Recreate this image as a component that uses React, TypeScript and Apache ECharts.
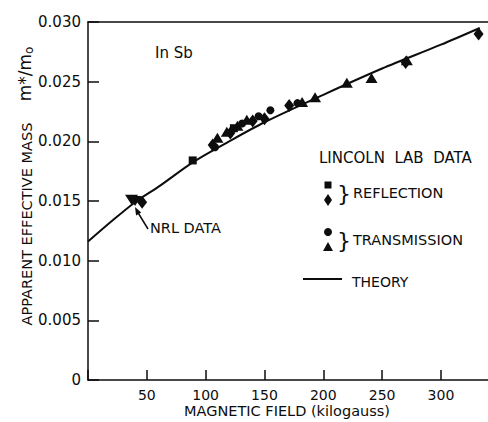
import React, { useEffect, useRef } from "react";
import * as echarts from "echarts";

// Theory curve points (kilogauss, m*/m0)
const theoryField = [0, 20, 40, 60, 90, 120, 150, 200, 250, 300, 333];
const theoryMass = [0.0116, 0.0133, 0.0149, 0.0162, 0.0183, 0.0200, 0.0216, 0.0239, 0.0261, 0.0281, 0.0295];

// Lincoln Lab – reflection
const reflSquares: [number, number][] = [
  [89, 0.0184],
  [124, 0.0211],
];
const reflDiamonds: [number, number][] = [
  [46, 0.0149],
  [106, 0.0197],
  [121, 0.0207],
  [140, 0.0217],
  [150, 0.0219],
  [171, 0.0230],
  [270, 0.0266],
  [332, 0.0290],
];
// Lincoln Lab – transmission
const transCircles: [number, number][] = [
  [108, 0.0195],
  [131, 0.0215],
  [145, 0.0221],
  [155, 0.0226],
  [178, 0.0232],
];
const transTriangles: [number, number][] = [
  [110, 0.0203],
  [118, 0.0208],
  [127, 0.0213],
  [135, 0.0218],
  [182, 0.0233],
  [193, 0.0237],
  [220, 0.0249],
  [241, 0.0253],
  [271, 0.0268],
];
// NRL data
const nrlPoints: [number, number][] = [
  [37, 0.0151],
  [40, 0.0150],
];

const xTicks = [50, 100, 150, 200, 250, 300];

const INK = "#0d0d0d";
const FONT = "DejaVu Sans";

export default function App() {
  const ref = useRef<HTMLDivElement>(null);
  useEffect(() => {
    if (!ref.current) return;
    const chart = echarts.init(ref.current, null, { renderer: "svg" });
    const txt = (x: number, y: number, text: string, size = 13, align = "left") => ({
      type: "text",
      x,
      y,
      style: { text, fill: INK, font: `${size}px "${FONT}"`, align, verticalAlign: "middle" },
    });
    const pts = { color: INK, opacity: 1 };
    chart.setOption({
      animation: false,
      backgroundColor: "#ffffff",
      grid: { left: 88, right: 0, top: 22, bottom: 42, containLabel: false },
      xAxis: [
        {
          type: "value",
          min: 0,
          max: 340,
          interval: 50,
          position: "bottom",
          axisLine: { show: true, onZero: false, lineStyle: { color: INK, width: 1.5 } },
          axisTick: { show: true, inside: true, length: 10, lineStyle: { color: INK, width: 1.5 } },
          axisLabel: {
            color: INK,
            fontFamily: FONT,
            fontSize: 14,
            margin: 8,
            showMaxLabel: false,
            formatter: (v: number) => (xTicks.includes(v) ? String(v) : ""),
          },
          splitLine: { show: false },
        },
        {
          type: "value",
          min: 0,
          max: 340,
          position: "top",
          axisLine: { show: true, onZero: false, lineStyle: { color: INK, width: 1.5 } },
          axisTick: { show: false },
          axisLabel: { show: false },
          splitLine: { show: false },
        },
      ],
      yAxis: {
        type: "value",
        min: 0,
        max: 0.03,
        interval: 0.005,
        axisLine: { show: true, onZero: false, lineStyle: { color: INK, width: 1.5 } },
        axisTick: { show: true, inside: true, length: 11, lineStyle: { color: INK, width: 1.5 } },
        axisLabel: {
          color: INK,
          fontFamily: FONT,
          fontSize: 15,
          margin: 7,
          formatter: (v: number) => (v === 0 ? "0" : v.toFixed(3)),
        },
        splitLine: { show: false },
      },
      series: [
        {
          type: "line",
          smooth: 0.3,
          showSymbol: false,
          data: theoryField.map((x, i) => [x, theoryMass[i]]),
          lineStyle: { color: INK, width: 2 },
          z: 1,
        },
        {
          type: "scatter",
          symbol: "rect",
          symbolSize: 8,
          data: reflSquares,
          itemStyle: pts,
        },
        {
          type: "scatter",
          symbol: "diamond",
          symbolSize: [10, 13],
          data: reflDiamonds,
          itemStyle: pts,
        },
        {
          type: "scatter",
          symbol: "circle",
          symbolSize: 8,
          data: transCircles,
          itemStyle: pts,
        },
        {
          type: "scatter",
          symbol: "triangle",
          symbolSize: [12, 10],
          data: transTriangles,
          itemStyle: pts,
        },
        {
          type: "scatter",
          symbol: "triangle",
          symbolRotate: 180,
          symbolSize: [13, 10],
          data: nrlPoints,
          itemStyle: pts,
        },
      ],
      graphic: [
        txt(155, 53, "In Sb", 15),
        txt(150, 228, "NRL DATA", 14.5),
        { type: "line", shape: { x1: 148, y1: 229, x2: 137, y2: 211 }, style: { stroke: INK, lineWidth: 1.5 } },
        {
          type: "polygon",
          shape: { points: [[135, 207], [141.2, 212.4], [136.1, 215.6]] },
          style: { fill: INK },
        },
        txt(319, 158, "LINCOLN  LAB  DATA", 15),
        { type: "rect", shape: { x: 324.5, y: 181.5, width: 7, height: 7 }, style: { fill: INK } },
        {
          type: "polygon",
          shape: { points: [[328, 194], [332, 200], [328, 206], [324, 200]] },
          style: { fill: INK },
        },
        txt(337, 193, "}", 22),
        txt(353, 193, "REFLECTION", 14.5),
        { type: "circle", shape: { cx: 328, cy: 232, r: 4 }, style: { fill: INK } },
        {
          type: "polygon",
          shape: { points: [[328, 242], [333, 251], [323, 251]] },
          style: { fill: INK },
        },
        txt(337, 240, "}", 22),
        txt(353, 240, "TRANSMISSION", 14.5),
        { type: "line", shape: { x1: 303, y1: 279, x2: 342, y2: 279 }, style: { stroke: INK, lineWidth: 2 } },
        txt(352, 282, "THEORY", 14),
        txt(287, 411, "MAGNETIC FIELD (kilogauss)", 14.5, "center"),
        {
          type: "text",
          x: 27,
          y: 224,
          rotation: Math.PI / 2,
          style: {
            text: "APPARENT EFFECTIVE MASS",
            fill: INK,
            font: `14.5px "${FONT}"`,
            align: "center",
            verticalAlign: "middle",
          },
        },
        {
          type: "text",
          x: 25,
          y: 74,
          rotation: Math.PI / 2,
          style: {
            text: "{m|m*/m}{s|o}",
            fill: INK,
            align: "center",
            verticalAlign: "middle",
            rich: {
              m: { fontFamily: FONT, fontSize: 17, fill: INK, color: INK },
              s: { fontFamily: FONT, fontSize: 12, fill: INK, color: INK, padding: [7, 0, 0, 0] },
            },
          },
        },
      ],
    });
    return () => chart.dispose();
  }, []);
  return <div ref={ref} style={{ width: 488, height: 422, position: "absolute", left: 0, top: 0 }} />;
}
